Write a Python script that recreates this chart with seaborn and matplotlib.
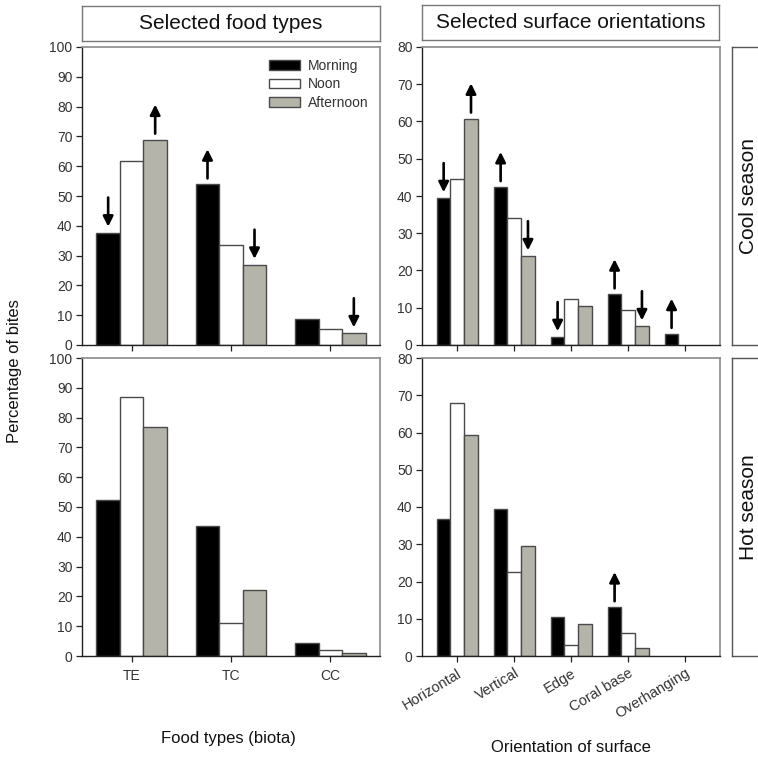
import numpy as np
import pandas as pd
import matplotlib
matplotlib.use("Agg")
import matplotlib.pyplot as plt
from matplotlib.transforms import offset_copy
import seaborn as sns

# ---- data -------------------------------------------------------------
periods = ["Morning", "Noon", "Afternoon"]
period_colors = ["#000000", "#ffffff", "#b4b4aa"]

food_types = ["TE", "TC", "CC"]
orientations = ["Horizontal", "Vertical", "Edge", "Coral base", "Overhanging"]

# percentage of bites, one list per period (same order as the categories)
cool_food = {
    "Morning":   [37.7, 53.9, 8.6],
    "Noon":      [61.6, 33.4, 5.3],
    "Afternoon": [68.9, 26.9, 3.9],
}
hot_food = {
    "Morning":   [52.3, 43.5, 4.2],
    "Noon":      [86.8, 11.0, 2.0],
    "Afternoon": [76.8, 22.0, 1.0],
}
cool_surface = {
    "Morning":   [39.4, 42.4, 2.1, 13.6, 3.0],
    "Noon":      [44.6, 34.0, 12.3, 9.3, 0.0],
    "Afternoon": [60.8, 23.8, 10.6, 5.0, 0.0],
}
hot_surface = {
    "Morning":   [36.8, 39.5, 10.4, 13.1, 0.0],
    "Noon":      [67.8, 22.6, 3.0, 6.2, 0.0],
    "Afternoon": [59.4, 29.5, 8.5, 2.2, 0.0],
}

# selection (up) / avoidance (down) markers
cool_food_arrows = {("TE", "Morning"): "down", ("TE", "Afternoon"): "up",
                    ("TC", "Morning"): "up", ("TC", "Afternoon"): "down",
                    ("CC", "Afternoon"): "down"}
hot_food_arrows = {}
cool_surface_arrows = {("Horizontal", "Morning"): "down", ("Horizontal", "Afternoon"): "up",
                       ("Vertical", "Morning"): "up", ("Vertical", "Afternoon"): "down",
                       ("Edge", "Morning"): "down",
                       ("Coral base", "Morning"): "up", ("Coral base", "Afternoon"): "down",
                       ("Overhanging", "Morning"): "up"}
hot_surface_arrows = {("Coral base", "Morning"): "up"}

food_ticks = list(range(0, 101, 10))
surface_ticks = list(range(0, 81, 10))


def to_frame(values, cats):
    rows = []
    for p in periods:
        for c, v in zip(cats, values[p]):
            rows.append({"cat": c, "period": p, "value": v})
    return pd.DataFrame(rows)


# ---- style ------------------------------------------------------------
sns.set_style("white")
plt.rcParams["font.family"] = ["Liberation Sans", "DejaVu Sans"]

W = H = 758
fig = plt.figure(figsize=(W / 100, H / 100), dpi=100)


def px_axes(x0, y0, x1, y1):
    return fig.add_axes([x0 / W, 1 - y1 / H, (x1 - x0) / W, (y1 - y0) / H])


DARK = "#222222"
LIGHT = "#8a8a8a"


def style_frame(ax):
    for side in ["left", "bottom"]:
        ax.spines[side].set_color(DARK)
        ax.spines[side].set_linewidth(1.0)
    for side in ["top", "right"]:
        ax.spines[side].set_color(LIGHT)
        ax.spines[side].set_linewidth(1.2)
        ax.spines[side].set_visible(True)


def add_arrow(ax, x, top, direction):
    gap, length = 4.3, 21.0
    near = offset_copy(ax.transData, fig=fig, x=0, y=gap, units="points")
    far = offset_copy(ax.transData, fig=fig, x=0, y=gap + length, units="points")
    head, tail = (far, near) if direction == "up" else (near, far)
    ax.annotate("", xy=(x, top), xycoords=head, xytext=(x, top), textcoords=tail,
                arrowprops=dict(arrowstyle="-|>,head_length=0.6,head_width=0.3",
                                lw=1.9, color="black", shrinkA=0, shrinkB=0))


def draw_panel(ax, values, cats, ticks, arrows, width, xlim, bottom_labels, rotate=False):
    df = to_frame(values, cats)
    sns.barplot(data=df, x="cat", y="value", hue="period", order=cats,
                hue_order=periods, palette=period_colors, saturation=1,
                width=width, edgecolor="#4a4a4a", linewidth=1.0,
                legend=False, ax=ax)
    ax.set_ylim(ticks[0], ticks[-1])
    ax.set_yticks(ticks)
    ax.set_xlim(*xlim)
    ax.set_xlabel("")
    ax.set_ylabel("")
    style_frame(ax)
    ax.tick_params(axis="both", which="major", direction="out", length=4.3,
                   width=0.9, color=DARK, labelsize=10, labelcolor="#333333",
                   left=True, bottom=True)
    ax.tick_params(axis="y", pad=2.5)
    ax.tick_params(axis="x", pad=5)
    if not bottom_labels:
        ax.set_xticklabels([])
    elif rotate:
        ax.set_xticks(range(len(cats)))
        ax.set_xticklabels(cats, rotation=31, ha="right", va="top",
                           rotation_mode="anchor", fontsize=10.5)
        ax.tick_params(axis="x", pad=3)
    # arrows above the bars, one BarContainer per period
    for p, cont in zip(periods, ax.containers):
        for c, bar in zip(cats, cont):
            if bar.get_height() == 0:
                bar.set_visible(False)
            d = arrows.get((c, p))
            if d:
                add_arrow(ax, bar.get_x() + bar.get_width() / 2, bar.get_height(), d)
    return ax


ax_tl = px_axes(82, 47, 380, 345)
ax_bl = px_axes(82, 358, 380, 656)
ax_tr = px_axes(422, 47, 720, 345)
ax_br = px_axes(422, 358, 720, 656)

food_xlim = (-0.5, 2.5)
surf_xlim = (-0.62, 4.61)

draw_panel(ax_tl, cool_food, food_types, food_ticks, cool_food_arrows, 0.71, food_xlim, False)
draw_panel(ax_bl, hot_food, food_types, food_ticks, hot_food_arrows, 0.71, food_xlim, True)
draw_panel(ax_tr, cool_surface, orientations, surface_ticks, cool_surface_arrows, 0.72, surf_xlim, False)
draw_panel(ax_br, hot_surface, orientations, surface_ticks, hot_surface_arrows, 0.72, surf_xlim, True, rotate=True)

# legend for the time of day
handles = [plt.Rectangle((0, 0), 1, 1, facecolor=c, edgecolor="#4a4a4a", linewidth=1.0)
           for c in period_colors]
ax_tl.legend(handles, periods, loc="upper right", bbox_to_anchor=(1.0, 1.0),
             frameon=False, fontsize=10, handlelength=2.2, handleheight=0.65,
             handletextpad=0.55, labelspacing=0.33, borderaxespad=0.45,
             labelcolor="#333333")


# column headings in boxes
def heading(x0, y0, x1, y1, text):
    a = px_axes(x0, y0, x1, y1)
    a.set_xticks([])
    a.set_yticks([])
    for s in a.spines.values():
        s.set_visible(True)
        s.set_color("#777777")
        s.set_linewidth(1.0)
    a.text(0.5, 0.5, text, ha="center", va="center", fontsize=15, color="#111111",
           transform=a.transAxes)


heading(82, 6, 380, 41, "Selected food types")
heading(422, 5, 719, 40, "Selected surface orientations")


# row labels in boxes on the right
def strip(y0, y1, text):
    a = px_axes(732, y0, 770, y1)
    a.set_xticks([])
    a.set_yticks([])
    for s in a.spines.values():
        s.set_visible(True)
        s.set_color("#555555")
        s.set_linewidth(1.0)
    fig.text(748 / W, 1 - (y0 + y1) / 2 / H, text, rotation=90, ha="center",
             va="center", fontsize=15, color="#111111")


strip(47, 345, "Cool season")
strip(358, 656, "Hot season")

fig.text(15 / W, 1 - 371 / H, "Percentage of bites", rotation=90, ha="center",
         va="center", fontsize=12, color="#111111")
fig.text(228 / W, 1 - 739 / H, "Food types (biota)", ha="center", va="center",
         fontsize=12, color="#111111")
fig.text(571 / W, 1 - 747 / H, "Orientation of surface", ha="center", va="center",
         fontsize=12, color="#111111")

fig.savefig("out.png", dpi=100)
